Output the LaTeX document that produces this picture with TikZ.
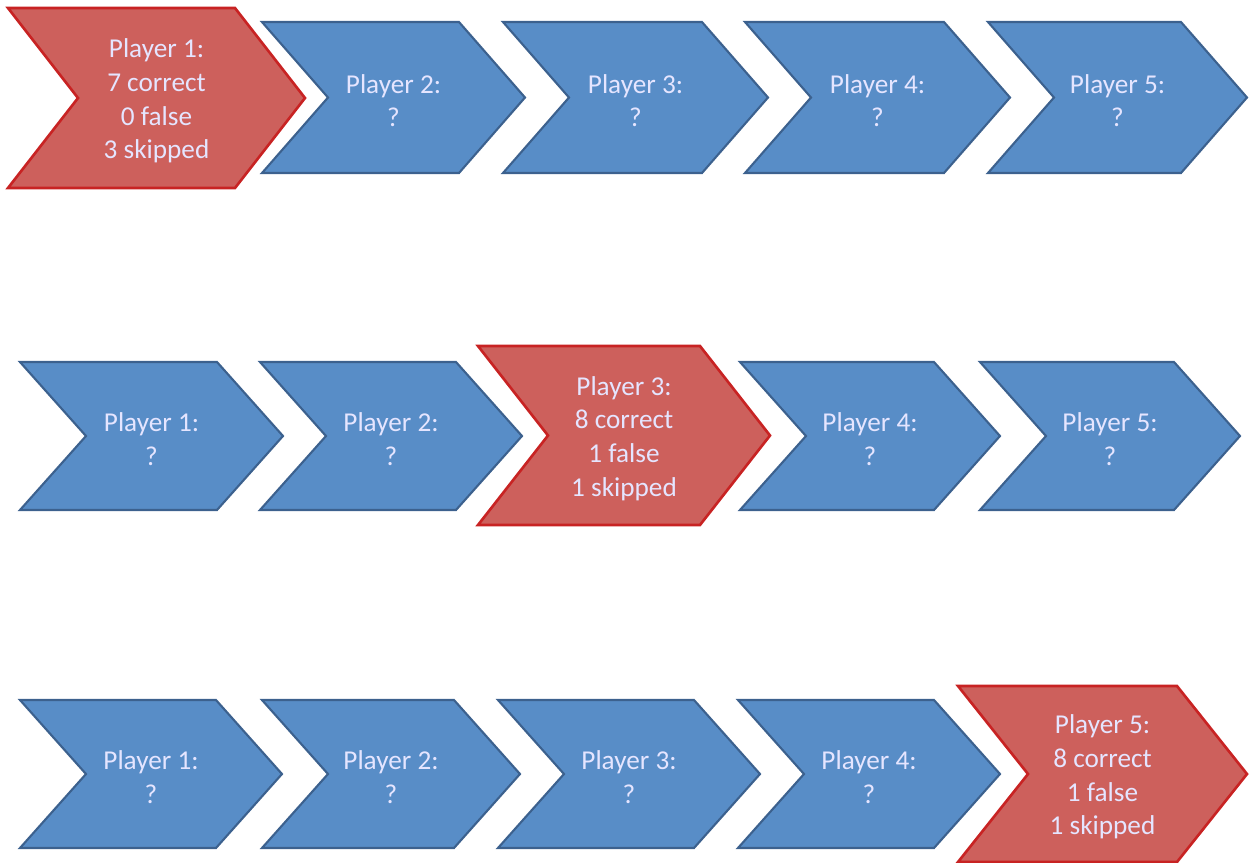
\documentclass[tikz,border=0pt]{standalone}
\usepackage{fontspec}
\setmainfont{Carlito}
\definecolor{blueFill}{RGB}{88,141,199}
\definecolor{blueLine}{RGB}{60,97,142}
\definecolor{redFill}{RGB}{205,96,92}
\definecolor{redLine}{RGB}{200,35,35}
\tikzset{
  bluechev/.style={fill=blueFill, draw=blueLine, line width=1.2pt, line join=miter},
  redchev/.style={fill=redFill, draw=redLine, line width=1.5pt, line join=miter},
  chevtext/.style={text=white!90!blue, align=center, font=\fontsize{15.5}{19.2}\selectfont}
}
% #1 style, #2 name, #3 left, #4 tip, #5 top, #6 bottom, #7 depth, #8 text
\newcommand{\chevron}[8]{%
  \draw[#1] (#3,#5) -- ({#4-#7},#5) -- (#4,{(#5+#6)/2}) -- ({#4-#7},#6)
    -- (#3,#6) -- ({#3+#7},{(#5+#6)/2}) -- cycle;
  \node[chevtext] (#2) at ({(#3+#4)/2},{(#5+#6)/2+3}) {#8};
}

\begin{document}
\begin{tikzpicture}[x=0.02cm, y=-0.02cm]
	\useasboundingbox (0,0) rectangle (1249,863);

	% Row 1: player 1 done
	\chevron{redchev}{ra1}{8}{305}{8}{188}{70}{Player 1:\\7 correct\\0 false\\3 skipped}
	\chevron{bluechev}{ra2}{262}{525}{22}{173}{66}{Player 2:\\?}
	\chevron{bluechev}{ra3}{503}{768}{22}{173}{66}{Player 3:\\?}
	\chevron{bluechev}{ra4}{745}{1010}{22}{173}{66}{Player 4:\\?}
	\chevron{bluechev}{ra5}{988}{1247}{22}{173}{66}{Player 5:\\?}

	% Row 2: player 3 done
	\chevron{bluechev}{rb1}{20}{283}{362}{510}{66}{Player 1:\\?}
	\chevron{bluechev}{rb2}{260}{522}{362}{510}{66}{Player 2:\\?}
	\chevron{redchev}{rb3}{478}{770}{346}{525}{70}{Player 3:\\8 correct\\1 false\\1 skipped}
	\chevron{bluechev}{rb4}{740}{1000}{362}{510}{66}{Player 4:\\?}
	\chevron{bluechev}{rb5}{980}{1240}{362}{510}{66}{Player 5:\\?}

	% Row 3: player 5 done
	\chevron{bluechev}{rc1}{20}{282}{700}{848}{66}{Player 1:\\?}
	\chevron{bluechev}{rc2}{262}{520}{700}{848}{66}{Player 2:\\?}
	\chevron{bluechev}{rc3}{498}{760}{700}{848}{66}{Player 3:\\?}
	\chevron{bluechev}{rc4}{738}{1000}{700}{848}{66}{Player 4:\\?}
	\chevron{redchev}{rc5}{958}{1247}{686}{862}{70}{Player 5:\\8 correct\\1 false\\1 skipped}
\end{tikzpicture}
\end{document}
